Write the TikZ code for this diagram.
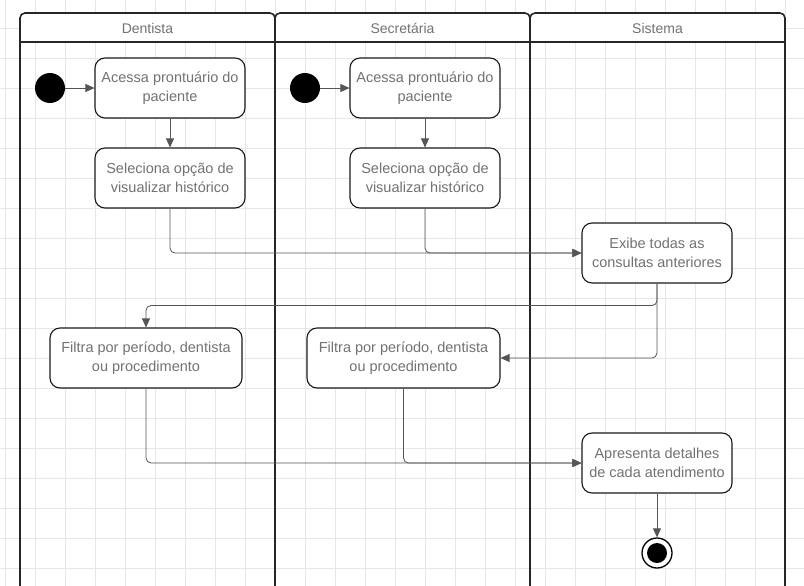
\documentclass[tikz,border=0pt]{standalone}
\usepackage{fontspec}
\setmainfont{Liberation Sans}
\usetikzlibrary{arrows.meta}
\definecolor{gridgray}{HTML}{E6E6E6}
\definecolor{txtgray}{HTML}{727272}
\definecolor{flowgray}{HTML}{555555}
\tikzset{
  lanebox/.style={draw=black!85, line width=1.6pt, rounded corners=5pt},
  act/.style={draw=black!90, line width=1.1pt, fill=white, rounded corners=10pt,
    minimum height=60pt, inner sep=2pt, align=center, text=txtgray,
    font=\fontsize{14.5}{19.5}\selectfont},
  lanetitle/.style={text=txtgray, font=\fontsize{14}{16}\selectfont},
  flow/.style={draw=flowgray, line width=0.8pt, rounded corners=5pt,
    -{Triangle[length=9pt,width=8pt]}},
  startdot/.style={circle, fill=black, minimum size=30pt, inner sep=0pt},
  enddot/.style={circle, draw=black, line width=1.3pt, fill=white, minimum size=30pt, inner sep=0pt},
}
\begin{document}
\begin{tikzpicture}[x=1pt,y=-1pt]
\useasboundingbox (0,0) rectangle (804,586);
% background grid
\foreach \gx in {5.7,35.7,...,800} \draw[gridgray, line width=0.8pt] (\gx,0) -- (\gx,586);
\foreach \gy in {28,58,...,586} \draw[gridgray, line width=0.8pt] (0,\gy) -- (804,\gy);
% lane headers
\foreach \lx/\rx in {20/275,275/530,530/785}
  \fill[white, rounded corners=5pt] (\lx,42) -- (\lx,13) -- (\rx,13) -- (\rx,42) -- cycle;
\node[lanetitle] (tD) at (147.5,28) {Dentista};
\node[lanetitle] (tS) at (402.5,28) {Secretária};
\node[lanetitle] (tY) at (657.5,28) {Sistema};
% lane outlines
\foreach \lx/\rx in {20/275,275/530,530/785}
  \draw[lanebox] (\lx,600) -- (\lx,13) -- (\rx,13) -- (\rx,600);
\draw[black!85, line width=1.6pt] (20,42) -- (785,42);
% activities
\node[startdot] (sD) at (50,88) {};
\node[act, minimum width=150pt] (accD) at (170,88) {Acessa prontuário do\\paciente};
\node[act, minimum width=150pt] (selD) at (170,178) {Seleciona opção de\\visualizar histórico};
\node[startdot] (sS) at (305,88) {};
\node[act, minimum width=150pt] (accS) at (425,88) {Acessa prontuário do\\paciente};
\node[act, minimum width=150pt] (selS) at (425,178) {Seleciona opção de\\visualizar histórico};
\node[act, minimum width=150pt] (exibe) at (657,253) {Exibe todas as\\consultas anteriores};
\node[act, minimum width=192pt] (filD) at (146,358) {Filtra por período, dentista\\ou procedimento};
\node[act, minimum width=193pt] (filS) at (403.5,358) {Filtra por período, dentista\\ou procedimento};
\node[act, minimum width=150pt] (apr) at (657,463) {Apresenta detalhes\\de cada atendimento};
\node[enddot] (fim) at (657,553) {};
\fill[black] (fim.center) circle (10pt);
% control flow
\draw[flow] (sD) -- (accD);
\draw[flow] (accD) -- (selD);
\draw[flow] (sS) -- (accS);
\draw[flow] (accS) -- (selS);
\draw[flow] (selD.south) |- (exibe.west);
\draw[flow] (selS.south) |- (exibe.west);
\draw[flow] (exibe.south) -- ++(0,22) -| (filD.north);
\draw[flow] (exibe.south) |- (filS.east);
\draw[flow] (filD.south) |- (apr.west);
\draw[flow] (filS.south) |- (apr.west);
\draw[flow] (apr) -- (fim);
\end{tikzpicture}
\end{document}
